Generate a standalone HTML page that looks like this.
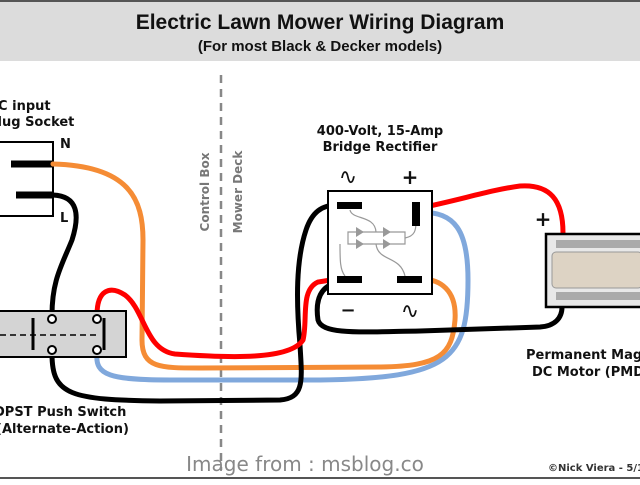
<!DOCTYPE html>
<html><head><style>body{margin:0;width:640px;height:480px;overflow:hidden;background:#fff}</style></head><body>
<svg width="640" height="480" viewBox="0 0 640 480" xmlns="http://www.w3.org/2000/svg" font-family="DejaVu Sans, Liberation Sans, sans-serif" font-weight="bold">
<rect x="0" y="0" width="640" height="61" fill="#dcdcdc"/>
<line x1="0" y1="1" x2="640" y2="1" stroke="#555" stroke-width="2"/>
<text x="320" y="29" font-size="21" font-family="Liberation Sans, sans-serif" text-anchor="middle" fill="#111">Electric Lawn Mower Wiring Diagram</text>
<text x="320" y="51" font-size="15" font-family="Liberation Sans, sans-serif" text-anchor="middle" fill="#111">(For most Black &amp; Decker models)</text>
<line x1="221" y1="75" x2="221" y2="470" stroke="#888" stroke-width="2.5" stroke-dasharray="8,6"/>
<text transform="translate(209,192) rotate(-90)" font-size="12" fill="#777" text-anchor="middle">Control Box</text>
<text transform="translate(242,192) rotate(-90)" font-size="12" fill="#777" text-anchor="middle">Mower Deck</text>
<text x="-12" y="110" font-size="13" fill="#111">AC input</text>
<text x="-12" y="126" font-size="13" fill="#111">Plug Socket</text>
<text x="60" y="148" font-size="13" fill="#111">N</text>
<text x="60" y="222" font-size="13" fill="#111">L</text>
<rect x="-2" y="142" width="55" height="74" fill="#fff" stroke="#000" stroke-width="2"/>
<line x1="11" y1="164" x2="53" y2="164" stroke="#000" stroke-width="7"/>
<line x1="16" y1="195" x2="53" y2="195" stroke="#000" stroke-width="7"/>
<g fill="none" stroke-linecap="round" stroke-width="5">
<path d="M53,164 C130,166 143,200 143,240 L142,340 C142,368 160,368 200,368 L380,367 C440,366 452,355 455,320 C457,290 440,279 421,279" stroke="#f58c35"/>
<path d="M97,354 C95,375 110,380 170,380 L320,380 C450,378 468,360 468,280 C468,230 455,212 420,212" stroke="#80a8dc"/>
<path d="M53,195 C78,196 80,215 72,240 C62,265 52,280 52,315" stroke="#000"/>
<path d="M52,354 C52,395 70,400 160,401 L280,400 C305,398 302,380 300,345 C296,300 296,260 306,230 C312,212 322,205 337,205" stroke="#000"/>
<path d="M97,315 C97,290 110,285 125,295 C145,310 145,350 175,354 C230,358 290,360 303,340 C308,320 300,290 318,282 L337,279" stroke="#f00"/>
<path d="M340,282 C320,285 315,300 318,320 C322,335 360,332 420,331 L540,327 C555,326 562,318 562,307" stroke="#000"/>
<path d="M420,208 C460,200 490,190 520,186 C550,184 563,200 563,233" stroke="#f00"/>
</g>
<rect x="-2" y="311" width="128" height="46" fill="#d4d4d4" stroke="#000" stroke-width="2"/>
<line x1="0" y1="335" x2="100" y2="335" stroke="#000" stroke-width="1.5" stroke-dasharray="6,4"/>
<line x1="33" y1="318" x2="33" y2="350" stroke="#000" stroke-width="3"/>
<line x1="104" y1="318" x2="104" y2="350" stroke="#000" stroke-width="3"/>
<g fill="#fff" stroke="#000" stroke-width="2"><circle cx="52" cy="319" r="4"/><circle cx="97" cy="319" r="4"/><circle cx="52" cy="350" r="4"/><circle cx="97" cy="350" r="4"/></g>
<text x="-6" y="416" font-size="13" fill="#111">DPST Push Switch</text>
<text x="-4" y="433" font-size="13" fill="#111">(Alternate-Action)</text>
<text x="380" y="135" font-size="13" fill="#111" text-anchor="middle">400-Volt, 15-Amp</text>
<text x="380" y="151" font-size="13" fill="#111" text-anchor="middle">Bridge Rectifier</text>
<text x="348" y="184" font-size="22" font-weight="normal" fill="#111" text-anchor="middle">∿</text>
<text x="410" y="184" font-size="20" fill="#111" text-anchor="middle">+</text>
<text x="348" y="316" font-size="18" fill="#111" text-anchor="middle">−</text>
<text x="410" y="318" font-size="22" font-weight="normal" fill="#111" text-anchor="middle">∿</text>
<rect x="328" y="191" width="104" height="103" fill="#fff" stroke="#000" stroke-width="2"/>
<g fill="none" stroke="#999" stroke-width="1.2">
<path d="M350,210 C352,220 375,215 376,232"/><path d="M348,232 H405 V244 H348 Z"/><path d="M405,238 C415,236 416,230 416,222"/>
<path d="M340,244 C340,260 340,270 345,276"/><path d="M376,244 C378,262 400,255 405,276"/>
</g>
<g fill="#999"><path d="M356,227 l8,5 l-8,5z"/><path d="M383,227 l8,5 l-8,5z"/><path d="M356,239 l8,5 l-8,5z"/><path d="M383,239 l8,5 l-8,5z"/></g>
<rect x="337" y="202" width="25" height="7" fill="#000"/>
<rect x="412" y="202" width="8" height="24" fill="#000"/>
<rect x="337" y="276" width="25" height="7" fill="#000"/>
<rect x="397" y="276" width="25" height="7" fill="#000"/>
<text x="543" y="226" font-size="20" fill="#111" text-anchor="middle">+</text>
<rect x="546" y="234" width="100" height="73" fill="#e8e8e8" stroke="#000" stroke-width="2.5"/>
<rect x="556" y="240" width="90" height="8" fill="#aaa"/>
<rect x="556" y="292" width="90" height="8" fill="#aaa"/>
<rect x="552" y="252" width="90" height="36" rx="4" fill="#ddd3c4" stroke="#999"/>
<text x="526" y="359" font-size="13" fill="#111">Permanent Magnet</text>
<text x="532" y="376" font-size="13" fill="#111">DC Motor (PMDC)</text>
<text x="305" y="471" font-size="20" font-weight="normal" fill="#888" text-anchor="middle">Image from : msblog.co</text>
<text x="548" y="471" font-size="10" fill="#333">©Nick Viera - 5/1</text>
<line x1="0" y1="478" x2="640" y2="478" stroke="#555" stroke-width="2"/>
</svg>
</body></html>
